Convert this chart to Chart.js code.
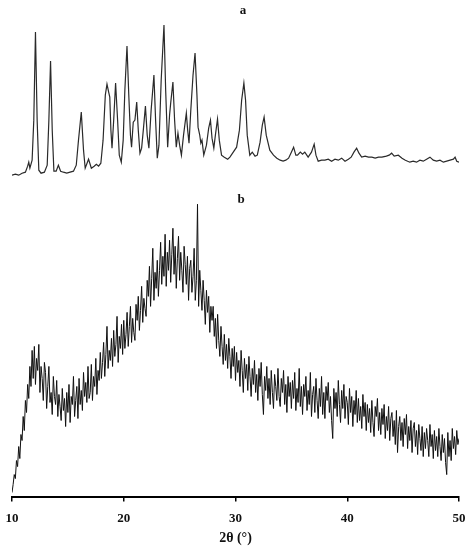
<!DOCTYPE html>
<html lang="en">
<head>
  <meta charset="utf-8">
  <title>XRD patterns a / b</title>
  <script src="https://cdn.jsdelivr.net/npm/chart.js"></script>
  <style>
    html, body { margin: 0; padding: 0; background: #fff; }
    #wrap { width: 472px; height: 550px; position: relative; }
  </style>
</head>
<body>
  <div id="wrap"><canvas id="xrdChart"></canvas></div>

  <script>
    // curve a (crystalline), 2θ and intensity (a.u.)
    const aAngles = [10.0, 10.3, 10.6, 10.9, 11.2, 11.4, 11.5, 11.6, 11.8, 11.95, 12.1, 12.25, 12.4, 12.6, 12.9,
      13.15, 13.3, 13.45, 13.6, 13.75, 13.95, 14.15, 14.35, 14.6, 14.9, 15.2, 15.5, 15.75, 15.95, 16.2,
      16.4, 16.55, 16.85, 17.1, 17.35, 17.55, 17.75, 17.95, 18.15, 18.35, 18.5, 18.65, 18.75, 18.85, 18.95,
      19.1, 19.27, 19.45, 19.6, 19.78, 19.95, 20.1, 20.29, 20.45, 20.6, 20.7, 20.85, 21.0, 21.16, 21.3,
      21.45, 21.6, 21.75, 21.94, 22.1, 22.25, 22.45, 22.7, 22.85, 23.0, 23.15, 23.35, 23.6, 23.75, 23.93,
      24.1, 24.2, 24.4, 24.55, 24.7, 24.85, 25.0, 25.16, 25.35, 25.6, 25.72, 25.84, 26.0, 26.2, 26.38,
      26.55, 26.65, 26.8, 26.9, 27.0, 27.16, 27.4, 27.6, 27.76, 27.9, 28.06, 28.2, 28.39, 28.55, 28.75,
      29.0, 29.3, 29.5, 29.8, 30.1, 30.35, 30.55, 30.75, 30.9, 31.05, 31.28, 31.5, 31.75, 31.95, 32.2,
      32.4, 32.56, 32.75, 33.07, 33.4, 33.7, 34.0, 34.26, 34.5, 34.75, 35.0, 35.2, 35.4, 35.55, 35.8,
      36.0, 36.2, 36.5, 36.8, 37.04, 37.2, 37.4, 37.7, 38.0, 38.3, 38.6, 38.9, 39.2, 39.5, 39.8,
      40.1, 40.35, 40.6, 40.84, 41.05, 41.29, 41.6, 41.9, 42.2, 42.5, 42.8, 43.1, 43.5, 43.75, 43.97,
      44.2, 44.57, 44.9, 45.2, 45.6, 45.9, 46.2, 46.5, 46.8, 47.1, 47.4, 47.7, 48.0, 48.3, 48.6,
      48.9, 49.2, 49.5, 49.65, 49.8, 50.0];
    const aValues = [321, 322, 321, 323, 324, 330, 334, 328, 336, 376, 464, 376, 326, 323, 324,
      331, 376, 435, 366, 325, 325, 331, 325, 324, 323, 324, 325, 331, 356, 384,
      346, 328, 337, 328, 330, 332, 330, 333, 356, 401, 412, 404, 399, 366, 348,
      376, 413, 376, 341, 334, 356, 406, 450, 401, 361, 349, 374, 376, 394, 366,
      343, 348, 366, 390, 361, 348, 386, 421, 376, 338, 351, 416, 471, 406, 349,
      381, 393, 414, 376, 349, 363, 351, 341, 361, 383, 366, 353, 386, 421, 443,
      401, 369, 361, 353, 356, 341, 351, 368, 376, 358, 348, 361, 377, 356, 341,
      339, 337, 339, 344, 349, 366, 396, 413, 396, 361, 341, 344, 340, 341, 354,
      371, 379, 361, 346, 341, 338, 336, 335, 336, 338, 344, 349, 341, 341, 344,
      342, 344, 339, 344, 352, 341, 335, 336, 336, 337, 335, 337, 336, 338, 335,
      337, 339, 344, 348, 343, 339, 340, 339, 339, 338, 339, 339, 340, 341, 343,
      340, 341, 338, 336, 334, 335, 334, 336, 335, 337, 339, 336, 335, 336, 334,
      335, 336, 337, 339, 335, 334];

    // curve b (amorphous), 2θ from 10 to 50 every 0.1
    const bAngles = [
      10.0, 10.1, 10.2, 10.3, 10.4, 10.5, 10.6, 10.7, 10.8, 10.9,
      11.0, 11.1, 11.2, 11.3, 11.4, 11.5, 11.6, 11.7, 11.8, 11.9,
      12.0, 12.1, 12.2, 12.3, 12.4, 12.5, 12.6, 12.7, 12.8, 12.9,
      13.0, 13.1, 13.2, 13.3, 13.4, 13.5, 13.6, 13.7, 13.8, 13.9,
      14.0, 14.1, 14.2, 14.3, 14.4, 14.5, 14.6, 14.7, 14.8, 14.9,
      15.0, 15.1, 15.2, 15.3, 15.4, 15.5, 15.6, 15.7, 15.8, 15.9,
      16.0, 16.1, 16.2, 16.3, 16.4, 16.5, 16.6, 16.7, 16.8, 16.9,
      17.0, 17.1, 17.2, 17.3, 17.4, 17.5, 17.6, 17.7, 17.8, 17.9,
      18.0, 18.1, 18.2, 18.3, 18.4, 18.5, 18.6, 18.7, 18.8, 18.9,
      19.0, 19.1, 19.2, 19.3, 19.4, 19.5, 19.6, 19.7, 19.8, 19.9,
      20.0, 20.1, 20.2, 20.3, 20.4, 20.5, 20.6, 20.7, 20.8, 20.9,
      21.0, 21.1, 21.2, 21.3, 21.4, 21.5, 21.6, 21.7, 21.8, 21.9,
      22.0, 22.1, 22.2, 22.3, 22.4, 22.5, 22.6, 22.7, 22.8, 22.9,
      23.0, 23.1, 23.2, 23.3, 23.4, 23.5, 23.6, 23.7, 23.8, 23.9,
      24.0, 24.1, 24.2, 24.3, 24.4, 24.5, 24.6, 24.7, 24.8, 24.9,
      25.0, 25.1, 25.2, 25.3, 25.4, 25.5, 25.6, 25.7, 25.8, 25.9,
      26.0, 26.1, 26.2, 26.3, 26.4, 26.5, 26.6, 26.7, 26.8, 26.9,
      27.0, 27.1, 27.2, 27.3, 27.4, 27.5, 27.6, 27.7, 27.8, 27.9,
      28.0, 28.1, 28.2, 28.3, 28.4, 28.5, 28.6, 28.7, 28.8, 28.9,
      29.0, 29.1, 29.2, 29.3, 29.4, 29.5, 29.6, 29.7, 29.8, 29.9,
      30.0, 30.1, 30.2, 30.3, 30.4, 30.5, 30.6, 30.7, 30.8, 30.9,
      31.0, 31.1, 31.2, 31.3, 31.4, 31.5, 31.6, 31.7, 31.8, 31.9,
      32.0, 32.1, 32.2, 32.3, 32.4, 32.5, 32.6, 32.7, 32.8, 32.9,
      33.0, 33.1, 33.2, 33.3, 33.4, 33.5, 33.6, 33.7, 33.8, 33.9,
      34.0, 34.1, 34.2, 34.3, 34.4, 34.5, 34.6, 34.7, 34.8, 34.9,
      35.0, 35.1, 35.2, 35.3, 35.4, 35.5, 35.6, 35.7, 35.8, 35.9,
      36.0, 36.1, 36.2, 36.3, 36.4, 36.5, 36.6, 36.7, 36.8, 36.9,
      37.0, 37.1, 37.2, 37.3, 37.4, 37.5, 37.6, 37.7, 37.8, 37.9,
      38.0, 38.1, 38.2, 38.3, 38.4, 38.5, 38.6, 38.7, 38.8, 38.9,
      39.0, 39.1, 39.2, 39.3, 39.4, 39.5, 39.6, 39.7, 39.8, 39.9,
      40.0, 40.1, 40.2, 40.3, 40.4, 40.5, 40.6, 40.7, 40.8, 40.9,
      41.0, 41.1, 41.2, 41.3, 41.4, 41.5, 41.6, 41.7, 41.8, 41.9,
      42.0, 42.1, 42.2, 42.3, 42.4, 42.5, 42.6, 42.7, 42.8, 42.9,
      43.0, 43.1, 43.2, 43.3, 43.4, 43.5, 43.6, 43.7, 43.8, 43.9,
      44.0, 44.1, 44.2, 44.3, 44.4, 44.5, 44.6, 44.7, 44.8, 44.9,
      45.0, 45.1, 45.2, 45.3, 45.4, 45.5, 45.6, 45.7, 45.8, 45.9,
      46.0, 46.1, 46.2, 46.3, 46.4, 46.5, 46.6, 46.7, 46.8, 46.9,
      47.0, 47.1, 47.2, 47.3, 47.4, 47.5, 47.6, 47.7, 47.8, 47.9,
      48.0, 48.1, 48.2, 48.3, 48.4, 48.5, 48.6, 48.7, 48.8, 48.9,
      49.0, 49.1, 49.2, 49.3, 49.4, 49.5, 49.6, 49.7, 49.8, 49.9,
      50.0];
    const bValues = [
      4, 12, 22, 18, 36, 30, 50, 38, 62, 56,
      80, 66, 96, 84, 112, 98, 130, 110, 146, 118,
      150, 112, 138, 126, 152, 104, 130, 118, 96, 134,
      124, 88, 110, 130, 94, 104, 82, 120, 100, 92,
      116, 80, 102, 90, 76, 108, 86, 98, 70, 104,
      84, 112, 74, 100, 92, 120, 80, 96, 110, 78,
      118, 92, 106, 86, 124, 100, 114, 94, 130, 98,
      104, 132, 96, 120, 110, 138, 102, 126, 116, 144,
      118, 134, 154, 120, 142, 170, 128, 146, 136, 158,
      130, 166, 140, 152, 180, 134, 160, 148, 172, 142,
      176, 148, 162, 184, 150, 170, 190, 154, 178, 164,
      156, 192, 176, 200, 166, 186, 210, 174, 198, 188,
      180, 216, 200, 230, 190, 218, 248, 196, 224, 208,
      236, 200, 226, 254, 212, 240, 220, 262, 210, 244,
      226, 256, 214, 242, 268, 222, 250, 208, 238, 260,
      216, 244, 226, 204, 250, 232, 212, 240, 196, 228,
      236, 204, 220, 248, 196, 216, 292, 190, 226, 206,
      186, 216, 196, 172, 206, 184, 200, 164, 190, 176,
      190, 160, 178, 148, 182, 156, 140, 170, 150, 132,
      162, 136, 152, 128, 158, 140, 118, 148, 130, 150,
      116, 144, 124, 136, 110, 146, 126, 104, 138, 118,
      132, 106, 140, 120, 100, 128, 112, 136, 104, 122,
      96, 128, 110, 134, 102, 82, 120, 106, 130, 98,
      118, 92, 126, 104, 88, 122, 110, 96, 128, 100,
      90, 118, 104, 126, 92, 112, 84, 120, 100, 114,
      88, 116, 98, 124, 86, 108, 94, 128, 90, 110,
      82, 112, 100, 120, 86, 106, 92, 124, 80, 102,
      110, 84, 118, 96, 78, 108, 90, 120, 82, 104,
      78, 110, 96, 114, 84, 100, 76, 58, 108, 88,
      104, 80, 116, 92, 74, 106, 88, 112, 78, 100,
      94, 72, 108, 84, 100, 70, 96, 82, 106, 74,
      98, 76, 90, 68, 102, 80, 94, 66, 92, 74,
      88, 64, 96, 74, 60, 90, 80, 98, 66, 84,
      62, 88, 72, 92, 58, 80, 66, 90, 56, 78,
      84, 60, 76, 52, 86, 44, 70, 80, 56, 74,
      50, 78, 62, 82, 48, 70, 56, 76, 44, 68,
      74, 50, 66, 42, 72, 58, 46, 70, 40, 64,
      48, 68, 56, 40, 72, 50, 62, 38, 66, 46,
      60, 40, 68, 50, 36, 62, 44, 58, 34, 22,
      64, 40, 56, 36, 68, 48, 60, 42, 66, 52,
      58];

    const xTicks = [10, 20, 30, 40, 50];

    function toPoints(xs, ys) {
      return xs.map((x, i) => ({ x: x, y: ys[i] }));
    }

    // labels "a" / "b" above each pattern
    const curveLabels = {
      id: 'curveLabels',
      afterDraw(chart) {
        const ctx = chart.ctx;
        ctx.save();
        ctx.fillStyle = '#111';
        ctx.font = 'bold 13px "Liberation Serif", serif';
        ctx.textAlign = 'center';
        ctx.textBaseline = 'middle';
        ctx.fillText('a', 243, 11);
        ctx.fillText('b', 241, 200);
        ctx.restore();
      }
    };

    const ctx = document.getElementById('xrdChart').getContext('2d');
    new Chart(ctx, {
      type: 'line',
      data: {
        datasets: [
          {
            label: 'a',
            data: toPoints(aAngles, aValues),
            borderColor: '#2a2a2a',
            borderWidth: 1.2,
            pointRadius: 0,
            tension: 0,
            fill: false
          },
          {
            label: 'b',
            data: toPoints(bAngles, bValues),
            borderColor: '#111',
            borderWidth: 1,
            pointRadius: 0,
            tension: 0,
            fill: false
          }
        ]
      },
      options: {
        responsive: true,
        maintainAspectRatio: false,
        animation: false,
        layout: { padding: { top: 16, bottom: 3, left: 12, right: 13 } },
        plugins: {
          legend: { display: false },
          tooltip: { enabled: false }
        },
        scales: {
          x: {
            type: 'linear',
            min: 10,
            max: 50,
            afterBuildTicks: axis => { axis.ticks = xTicks.map(v => ({ value: v })); },
            // labels may overhang the plot edges a little
            afterFit: axis => { axis.paddingLeft = 4; axis.paddingRight = 4; },
            grid: {
              display: true,
              drawOnChartArea: false,
              drawTicks: true,
              tickLength: 5,
              color: '#000',
              lineWidth: 1.5
            },
            border: { display: true, color: '#000', width: 2 },
            ticks: {
              color: '#111',
              padding: 9,
              font: { family: '"Liberation Serif", serif', size: 13, weight: 'bold' }
            },
            title: {
              display: true,
              text: '2θ (°)',
              color: '#111',
              padding: { top: -5, bottom: 0 },
              font: { family: '"Liberation Serif", serif', size: 14, weight: 'bold' }
            }
          },
          y: {
            display: false,
            min: 0,
            max: 480
          }
        }
      },
      plugins: [curveLabels]
    });
  </script>
</body>
</html>
